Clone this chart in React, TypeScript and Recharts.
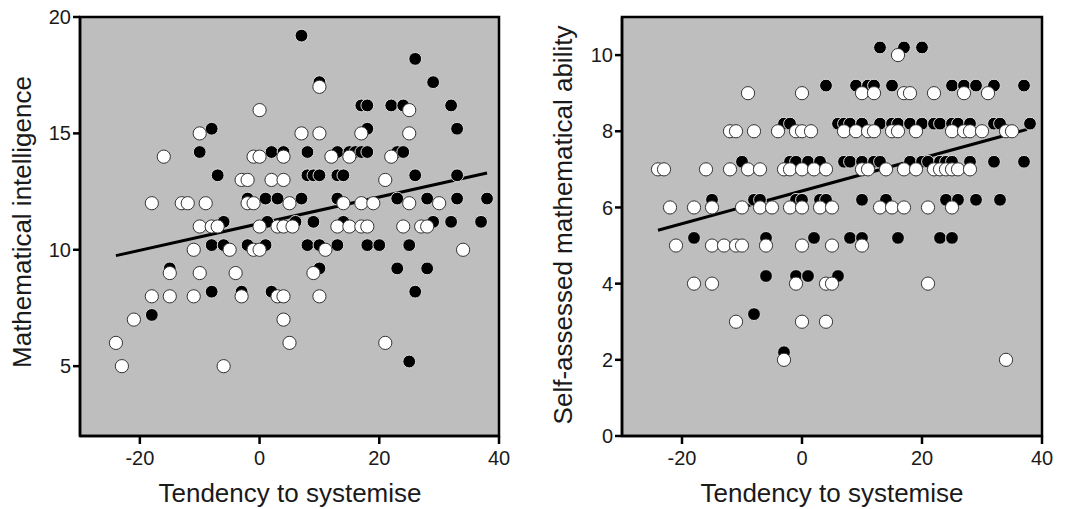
import React from "react";
import { ScatterChart, Scatter, XAxis, YAxis, ReferenceArea, ReferenceLine } from "recharts";

type Pt = [number, number];

const X_TICKS = [-20, 0, 20, 40];
const X_DOMAIN: [number, number] = [-30, 40];
const X_TITLE = "Tendency to systemise";

// left panel: mathematical intelligence
const LEFT_Y_TICKS = [5, 10, 15, 20];
const LEFT_Y_DOMAIN: [number, number] = [2, 20];
const LEFT_Y_TITLE = "Mathematical intelligence";

const leftBlack: Pt[] = [
  [7, 19.2], [26, 18.2], [29, 17.2], [10, 17.2], [17, 16.2], [18, 16.2], [22, 16.2], [24, 16.2], [32, 16.2],
  [-8, 15.2], [18, 15.2], [33, 15.2],
  [-10, 14.2], [2, 14.2], [4, 14.2], [8, 14.2], [13, 14.2], [15, 14.2], [16, 14.2], [17, 14.2], [18, 14.2], [23, 14.2], [24, 14.2],
  [-7, 13.2], [8, 13.2], [9, 13.2], [10, 13.2], [13, 13.2], [14, 13.2], [26, 13.2], [33, 13.2],
  [-2, 12.2], [1, 12.2], [3, 12.2], [7, 12.2], [13, 12.2], [23, 12.2], [28, 12.2], [33, 12.2], [38, 12.2],
  [-6, 11.2], [1.3, 11.2], [6, 11.2], [9, 11.2], [14, 11.2], [29, 11.2], [32, 11.2], [37, 11.2],
  [-8, 10.2], [-6, 10.2], [-2, 10.2], [1, 10.2], [8, 10.2], [10, 10.2], [13, 10.2], [18, 10.2], [20, 10.2], [25, 10.2],
  [-15, 9.2], [10, 9.2], [23, 9.2], [28, 9.2],
  [-8, 8.2], [-3, 8.2], [2, 8.2], [26, 8.2],
  [-18, 7.2], [25, 5.2],
];

const leftWhite: Pt[] = [
  [10, 17], [0, 16], [25, 16],
  [-10, 15], [7, 15], [10, 15], [17, 15], [25, 15],
  [-16, 14], [-1, 14], [0, 14], [4, 14], [12, 14], [15, 14], [22, 14],
  [-3, 13], [-2, 13], [2, 13], [4, 13], [21, 13],
  [-18, 12], [-13, 12], [-12, 12], [-9, 12], [-2, 12], [-1, 12], [5, 12], [14, 12], [17, 12], [19, 12], [25, 12], [30, 12],
  [-10, 11], [-8, 11], [-7, 11], [0, 11], [3, 11], [4, 11], [5.5, 11], [13, 11], [15, 11], [17, 11], [18, 11], [24, 11], [27, 11], [28, 11],
  [-11, 10], [-5, 10], [-1, 10], [0, 10], [11, 10], [34, 10],
  [-15, 9], [-10, 9], [-4, 9], [9, 9],
  [-18, 8], [-15, 8], [-11, 8], [-3, 8], [3, 8], [4, 8], [10, 8],
  [-21, 7], [4, 7],
  [-24, 6], [5, 6], [21, 6],
  [-23, 5], [-6, 5],
];

const leftFit: Pt[] = [[-24, 9.75], [38, 13.3]];

// right panel: self-assessed ability
const RIGHT_Y_TICKS = [0, 2, 4, 6, 8, 10];
const RIGHT_Y_DOMAIN: [number, number] = [0, 11];
const RIGHT_Y_TITLE = "Self-assessed mathematical ability";

const rightBlack: Pt[] = [
  [13, 10.2], [17, 10.2], [20, 10.2],
  [4, 9.2], [9, 9.2], [11, 9.2], [12, 9.2], [15, 9.2], [25, 9.2], [27, 9.2], [29, 9.2], [32, 9.2], [37, 9.2],
  [-3, 8.2], [-2, 8.2], [6, 8.2], [7, 8.2], [8, 8.2], [10, 8.2], [13, 8.2], [15, 8.2], [16, 8.2], [18, 8.2], [20, 8.2],
  [22, 8.2], [23, 8.2], [25, 8.2], [26, 8.2], [28, 8.2], [32, 8.2], [33, 8.2], [38, 8.2],
  [-10, 7.2], [-2, 7.2], [-1, 7.2], [1, 7.2], [3, 7.2], [7, 7.2], [8, 7.2], [10, 7.2], [12, 7.2], [13, 7.2], [18, 7.2],
  [20, 7.2], [21, 7.2], [23, 7.2], [24, 7.2], [25, 7.2], [28, 7.2], [32, 7.2], [37, 7.2],
  [-15, 6.2], [-8, 6.2], [-7, 6.2], [-1, 6.2], [0, 6.2], [3, 6.2], [4, 6.2], [10, 6.2], [14, 6.2], [24, 6.2], [26, 6.2], [29, 6.2], [33, 6.2],
  [-18, 5.2], [-6, 5.2], [2, 5.2], [8, 5.2], [10, 5.2], [16, 5.2], [23, 5.2], [25, 5.2],
  [-6, 4.2], [-1, 4.2], [1, 4.2], [6, 4.2],
  [-8, 3.2], [-3, 2.2],
];

const rightWhite: Pt[] = [
  [16, 10],
  [-9, 9], [0, 9], [10, 9], [12, 9], [17, 9], [18, 9], [22, 9], [27, 9], [31, 9],
  [-12, 8], [-11, 8], [-8, 8], [-4, 8], [-1, 8], [0, 8], [1.5, 8], [7, 8], [9, 8], [11, 8], [12, 8], [15, 8], [16, 8],
  [19, 8], [25, 8], [27, 8], [28, 8], [30, 8], [34, 8], [35, 8],
  [-24, 7], [-23, 7], [-16, 7], [-12, 7], [-9, 7], [-7, 7], [-3, 7], [-2, 7], [0, 7], [2, 7], [4, 7], [10, 7], [11, 7],
  [14, 7], [17, 7], [19, 7], [22, 7], [23, 7], [24, 7], [25, 7], [26, 7], [28, 7],
  [-22, 6], [-18, 6], [-15, 6], [-10, 6], [-7, 6], [-5, 6], [-2, 6], [0, 6], [3, 6], [5, 6], [13, 6], [15, 6], [17, 6], [21, 6], [25, 6],
  [-21, 5], [-15, 5], [-13, 5], [-11, 5], [-10, 5], [-6, 5], [0, 5], [5, 5], [10, 5],
  [-18, 4], [-15, 4], [-1, 4], [4, 4], [5, 4], [21, 4],
  [-11, 3], [0, 3], [4, 3],
  [-3, 2], [34, 2],
];

const rightFit: Pt[] = [[-24, 5.4], [37.5, 8.05]];

const FONT = "'Liberation Sans', Arial, Helvetica, sans-serif";
const toObj = (arr: Pt[]) => arr.map(([x, y]) => ({ x, y }));

const WhiteDot = (p: any) => <circle cx={p.cx} cy={p.cy} r={6.6} fill="#fff" stroke="#333" strokeWidth={1} />;
const BlackDot = (p: any) => <circle cx={p.cx} cy={p.cy} r={6.4} fill="#000" stroke="#dcdcdc" strokeWidth={1} />;

interface PanelProps {
  left: number;
  width: number;
  marginLeft: number;
  marginRight: number;
  yTicks: number[];
  yDomain: [number, number];
  yTitle: string;
  yTitleX: number;
  yTitleY: number;
  xTitleX: number;
  black: Pt[];
  white: Pt[];
  fit: Pt[];
}

function Panel(props: PanelProps) {
  const { left, width, marginLeft, marginRight, yTicks, yDomain, yTitle, yTitleX, yTitleY, xTitleX, black, white, fit } = props;
  return (
    <div style={{ position: "absolute", left, top: 0 }}>
      <ScatterChart
        width={width}
        height={509}
        margin={{ top: 17, right: marginRight, left: marginLeft, bottom: 33 }}
        style={{ fontFamily: FONT }}
      >
        <ReferenceArea
          x1={X_DOMAIN[0]}
          x2={X_DOMAIN[1]}
          y1={yDomain[0]}
          y2={yDomain[1]}
          fill="#bebebe"
          fillOpacity={1}
          stroke="#000"
          strokeWidth={2.5}
        />
        <XAxis
          type="number"
          dataKey="x"
          domain={X_DOMAIN}
          ticks={X_TICKS}
          height={40}
          allowDataOverflow
          axisLine={{ stroke: "#000", strokeWidth: 2.5 }}
          tickLine={{ stroke: "#000", strokeWidth: 2.5 }}
          tickSize={8}
          tickMargin={7}
          tick={{ fontSize: 20, fill: "#1a1a1a", fontFamily: FONT }}
          label={{
            content: () => (
              <text x={xTitleX} y={502} textAnchor="middle" fontSize={26} fill="#1a1a1a" fontFamily={FONT}>
                {X_TITLE}
              </text>
            ),
          }}
        />
        <YAxis
          type="number"
          dataKey="y"
          domain={yDomain}
          ticks={yTicks}
          width={60}
          allowDataOverflow
          axisLine={{ stroke: "#000", strokeWidth: 2.5 }}
          tickLine={{ stroke: "#000", strokeWidth: 2.5 }}
          tickSize={7}
          tickMargin={2}
          tick={{ fontSize: 20, fill: "#1a1a1a", fontFamily: FONT }}
          label={{
            content: () => (
              <text
                x={yTitleX}
                y={yTitleY}
                textAnchor="middle"
                fontSize={26}
                fill="#1a1a1a"
                fontFamily={FONT}
                transform={`rotate(-90 ${yTitleX} ${yTitleY})`}
              >
                {yTitle}
              </text>
            ),
          }}
        />
        <Scatter data={toObj(black)} shape={BlackDot} isAnimationActive={false} />
        <Scatter data={toObj(white)} shape={WhiteDot} isAnimationActive={false} />
        <ReferenceLine segment={toObj(fit)} stroke="#000" strokeWidth={3} />
      </ScatterChart>
    </div>
  );
}

export default function App() {
  return (
    <div style={{ position: "absolute", left: 0, top: 0, width: 1065, height: 509, background: "#fff" }}>
      <Panel
        left={0}
        width={540}
        marginLeft={20}
        marginRight={41}
        yTicks={LEFT_Y_TICKS}
        yDomain={LEFT_Y_DOMAIN}
        yTitle={LEFT_Y_TITLE}
        yTitleX={31}
        yTitleY={222}
        xTitleX={290}
        black={leftBlack}
        white={leftWhite}
        fit={leftFit}
      />
      <Panel
        left={540}
        width={525}
        marginLeft={22}
        marginRight={23}
        yTicks={RIGHT_Y_TICKS}
        yDomain={RIGHT_Y_DOMAIN}
        yTitle={RIGHT_Y_TITLE}
        yTitleX={32}
        yTitleY={225}
        xTitleX={292}
        black={rightBlack}
        white={rightWhite}
        fit={rightFit}
      />
    </div>
  );
}
